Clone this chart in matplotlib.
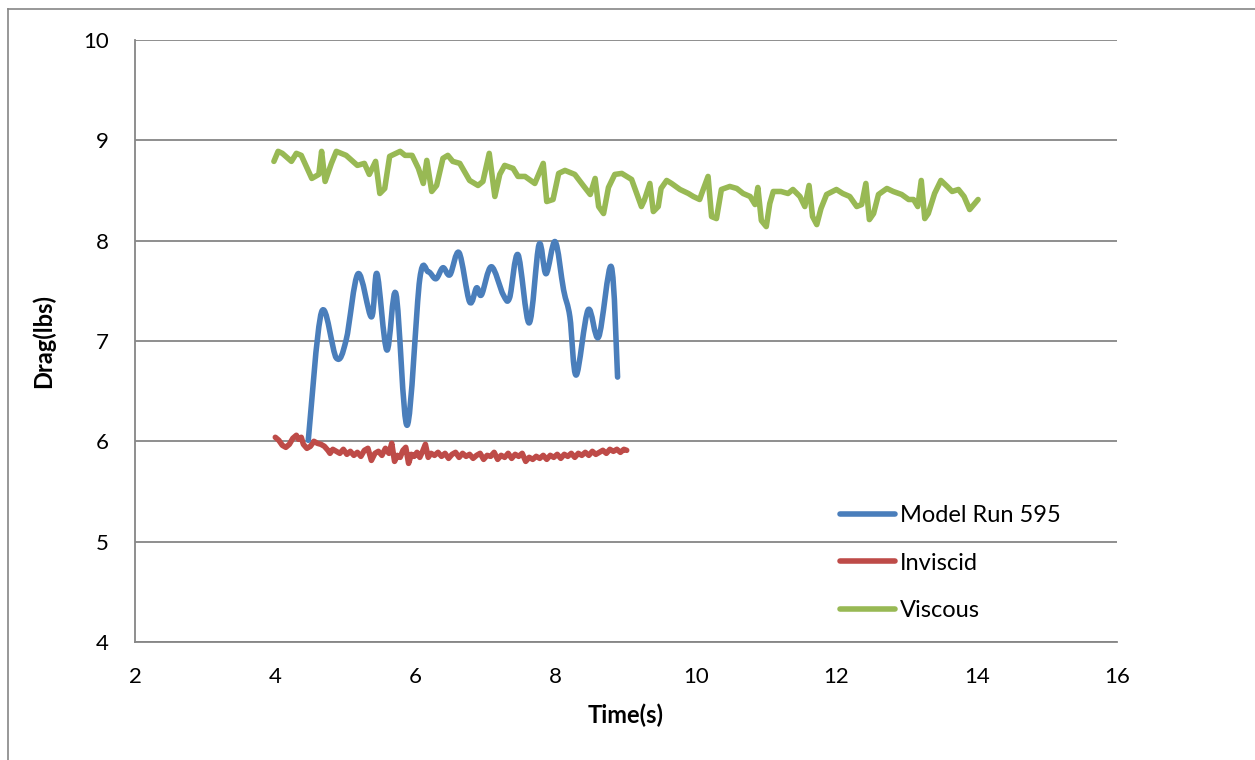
import matplotlib
matplotlib.use("Agg")
import matplotlib.pyplot as plt
from matplotlib.path import Path
from matplotlib.patches import PathPatch
from matplotlib.lines import Line2D
import numpy as np

# ---- data -------------------------------------------------------------
model_t = [4.47, 4.66, 4.87, 5.01, 5.18, 5.37, 5.45, 5.59, 5.72, 5.88,
           6.06, 6.18, 6.29, 6.39, 6.49, 6.62, 6.77, 6.87, 6.94, 7.08,
           7.25, 7.34, 7.46, 7.62, 7.76, 7.86, 7.99, 8.11, 8.20, 8.29,
           8.46, 8.61, 8.79, 8.88]
model_v = [6.01, 7.29, 6.83, 7.01, 7.67, 7.24, 7.67, 6.91, 7.47, 6.16,
           7.62, 7.69, 7.62, 7.73, 7.66, 7.88, 7.39, 7.53, 7.46, 7.74,
           7.46, 7.43, 7.86, 7.18, 7.96, 7.67, 7.99, 7.51, 7.24, 6.66,
           7.31, 7.04, 7.74, 6.64]

inviscid_t = [4.00, 4.05, 4.10, 4.15, 4.20, 4.25, 4.30, 4.33, 4.37, 4.40,
              4.45, 4.50, 4.55, 4.60, 4.65, 4.70, 4.75, 4.78, 4.82, 4.87,
              4.92, 4.97, 5.02, 5.07, 5.12, 5.17, 5.22, 5.27, 5.32, 5.37,
              5.42, 5.47, 5.52, 5.57, 5.62, 5.66, 5.70, 5.74, 5.78, 5.82,
              5.86, 5.90, 5.94, 5.98, 6.02, 6.06, 6.10, 6.14, 6.18, 6.22,
              6.27, 6.32, 6.37, 6.42, 6.47, 6.52, 6.57, 6.62, 6.67, 6.72,
              6.77, 6.82, 6.87, 6.92, 6.97, 7.02, 7.07, 7.12, 7.17, 7.22,
              7.27, 7.32, 7.37, 7.42, 7.47, 7.52, 7.57, 7.62, 7.67, 7.72,
              7.77, 7.82, 7.87, 7.92, 7.97, 8.02, 8.07, 8.12, 8.17, 8.22,
              8.27, 8.32, 8.37, 8.42, 8.47, 8.52, 8.57, 8.62, 8.67, 8.72,
              8.77, 8.82, 8.87, 8.92, 8.97, 9.01]
inviscid_v = [6.04, 6.01, 5.96, 5.94, 5.97, 6.03, 6.06, 6.02, 6.04, 5.97,
              5.93, 5.95, 6.00, 5.98, 5.97, 5.95, 5.91, 5.88, 5.92, 5.90,
              5.88, 5.92, 5.87, 5.90, 5.86, 5.89, 5.85, 5.91, 5.93, 5.81,
              5.88, 5.90, 5.86, 5.93, 5.88, 5.98, 5.80, 5.86, 5.84, 5.91,
              5.94, 5.78, 5.87, 5.85, 5.89, 5.84, 5.90, 5.97, 5.84, 5.88,
              5.86, 5.89, 5.85, 5.88, 5.83, 5.87, 5.89, 5.84, 5.88, 5.85,
              5.87, 5.83, 5.86, 5.88, 5.82, 5.86, 5.85, 5.89, 5.82, 5.86,
              5.84, 5.88, 5.83, 5.87, 5.85, 5.88, 5.80, 5.84, 5.82, 5.85,
              5.83, 5.86, 5.82, 5.86, 5.84, 5.87, 5.83, 5.87, 5.85, 5.88,
              5.84, 5.88, 5.86, 5.89, 5.86, 5.90, 5.87, 5.89, 5.91, 5.88,
              5.92, 5.90, 5.92, 5.89, 5.92, 5.91]

viscous_t = [3.98, 4.04, 4.10, 4.23, 4.30, 4.37, 4.52, 4.62, 4.66, 4.71,
             4.80, 4.87, 5.01, 5.17, 5.27, 5.34, 5.43, 5.49, 5.56, 5.63,
             5.78, 5.85, 5.95, 6.04, 6.11, 6.16, 6.23, 6.30, 6.39, 6.46,
             6.53, 6.63, 6.77, 6.89, 6.96, 7.05, 7.13, 7.20, 7.27, 7.39,
             7.46, 7.56, 7.70, 7.82, 7.87, 7.96, 8.04, 8.13, 8.27, 8.39,
             8.49, 8.56, 8.61, 8.68, 8.75, 8.84, 8.94, 9.08, 9.22, 9.26,
             9.34, 9.39, 9.46, 9.50, 9.58, 9.65, 9.77, 9.89, 9.96, 10.05,
             10.08, 10.17, 10.22, 10.29, 10.36, 10.48, 10.58, 10.67, 10.77, 10.84,
             10.88, 10.93, 11.00, 11.05, 11.10, 11.21, 11.31, 11.38, 11.48, 11.55,
             11.61, 11.66, 11.72, 11.78, 11.86, 12.00, 12.09, 12.19, 12.29, 12.36,
             12.42, 12.47, 12.53, 12.60, 12.72, 12.81, 12.93, 13.03, 13.10, 13.16,
             13.21, 13.26, 13.31, 13.40, 13.49, 13.58, 13.65, 13.74, 13.82, 13.90,
             13.96, 14.02]
viscous_v = [8.79, 8.89, 8.87, 8.79, 8.87, 8.85, 8.62, 8.66, 8.89, 8.59,
             8.77, 8.89, 8.85, 8.75, 8.77, 8.66, 8.79, 8.47, 8.52, 8.84,
             8.89, 8.85, 8.85, 8.72, 8.57, 8.80, 8.49, 8.55, 8.82, 8.85,
             8.79, 8.77, 8.60, 8.55, 8.59, 8.87, 8.44, 8.66, 8.75, 8.72,
             8.64, 8.64, 8.57, 8.77, 8.39, 8.41, 8.67, 8.70, 8.66, 8.55,
             8.46, 8.62, 8.34, 8.27, 8.53, 8.66, 8.67, 8.61, 8.34, 8.40,
             8.57, 8.29, 8.34, 8.52, 8.60, 8.57, 8.51, 8.47, 8.44, 8.41,
             8.47, 8.64, 8.24, 8.22, 8.51, 8.54, 8.52, 8.47, 8.44, 8.36,
             8.53, 8.20, 8.14, 8.37, 8.49, 8.49, 8.47, 8.51, 8.44, 8.34,
             8.55, 8.24, 8.16, 8.32, 8.46, 8.51, 8.47, 8.44, 8.34, 8.36,
             8.57, 8.21, 8.27, 8.46, 8.52, 8.49, 8.46, 8.41, 8.41, 8.34,
             8.60, 8.22, 8.27, 8.47, 8.60, 8.54, 8.49, 8.51, 8.44, 8.31,
             8.36, 8.41]

series_names = ["Model Run 595", "Inviscid", "Viscous"]
series_colors = ["#4A7EBB", "#BE4B48", "#98B954"]

x_ticks = [2, 4, 6, 8, 10, 12, 14, 16]
y_ticks = [4, 5, 6, 7, 8, 9, 10]


def smooth_path(xs, ys):
    """Catmull-Rom style smoothed path through the given points."""
    xs = np.asarray(xs, float)
    ys = np.asarray(ys, float)
    pts = np.column_stack([xs, ys])
    n = len(pts)
    verts = [pts[0]]
    codes = [Path.MOVETO]
    for i in range(n - 1):
        p0 = pts[i - 1] if i > 0 else pts[i]
        p1 = pts[i]
        p2 = pts[i + 1]
        p3 = pts[i + 2] if i + 2 < n else pts[i + 1]
        c1 = p1 + (p2 - p0) / 6.0
        c2 = p2 - (p3 - p1) / 6.0
        verts += [c1, c2, p2]
        codes += [Path.CURVE4] * 3
    return Path(verts, codes)


plt.rcParams["font.family"] = ["Lato", "DejaVu Sans"]
fs_tick = 16
fs_leg = 17
fs_lab = 17

fig = plt.figure(figsize=(12.55, 7.6), dpi=100)
ax = fig.add_axes([0.1076, 0.1553, 0.7824, 0.7921])

grid_col = "#868686"

# outer chart-area border
fig.add_artist(Line2D([8 / 1255, 8 / 1255], [0, 1 - 9 / 760],
                      transform=fig.transFigure, color=grid_col, lw=1.2))
fig.add_artist(Line2D([8 / 1255, 1], [1 - 9 / 760, 1 - 9 / 760],
                      transform=fig.transFigure, color=grid_col, lw=1.2))

ax.set_xlim(2, 16)
ax.set_ylim(4, 10)
ax.set_xticks(x_ticks)
ax.set_yticks(y_ticks)
ax.set_xticklabels([str(v) for v in x_ticks])
ax.set_yticklabels([str(v) for v in y_ticks])
ax.tick_params(axis="both", length=0, labelsize=fs_tick, colors="black")
ax.tick_params(axis="y", pad=19)
ax.tick_params(axis="x", pad=18)

for s in ["top", "right"]:
    ax.spines[s].set_visible(False)
for s in ["left", "bottom"]:
    ax.spines[s].set_color(grid_col)
    ax.spines[s].set_linewidth(1.3)

ax.yaxis.grid(True, color=grid_col, lw=1.3)
ax.set_axisbelow(True)

lw = 4.0
ax.plot(inviscid_t, inviscid_v, color=series_colors[1], lw=lw,
        solid_joinstyle="round", solid_capstyle="round", zorder=3)
ax.plot(viscous_t, viscous_v, color=series_colors[2], lw=lw,
        solid_joinstyle="round", solid_capstyle="round", zorder=3)
ax.add_patch(PathPatch(smooth_path(model_t, model_v), facecolor="none",
                       edgecolor=series_colors[0], lw=lw, capstyle="round",
                       joinstyle="round", zorder=4))

handles = [Line2D([], [], color=c, lw=lw, solid_capstyle="round")
           for c in series_colors]
ax.legend(handles, series_names, loc="center left",
          bbox_to_anchor=(0.718, 0.131), frameon=False, fontsize=fs_leg,
          handlelength=2.33, handletextpad=0.22, labelspacing=1.13,
          borderpad=0, borderaxespad=0)

ax.set_xlabel("Time(s)", fontsize=fs_lab, fontweight="bold", labelpad=12)
ax.set_ylabel("Drag(lbs)", fontsize=fs_lab, fontweight="bold", labelpad=20)

fig.savefig("out.png", dpi=100)
